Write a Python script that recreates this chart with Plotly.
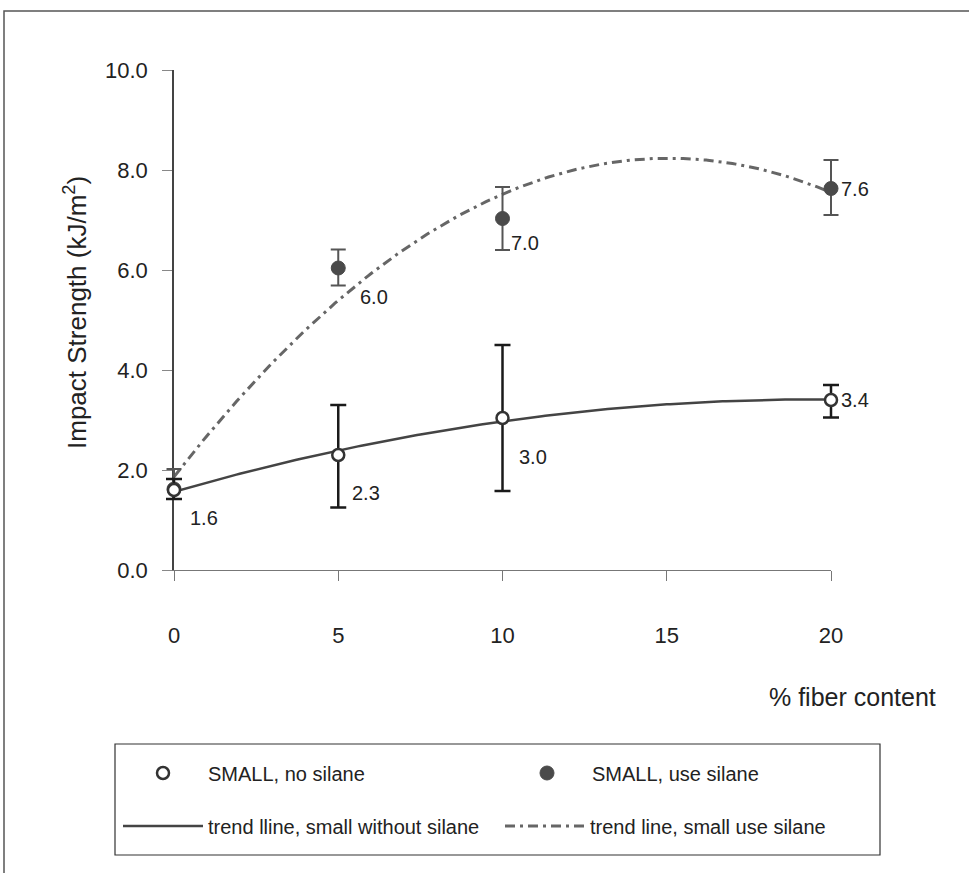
import numpy as np
import plotly.graph_objects as go

# ---------------- data ----------------
fiber = [0, 5, 10, 20]
no_silane = [1.6, 2.3, 3.04, 3.4]
no_silane_err_plus = [0.22, 1.0, 1.46, 0.3]
no_silane_err_minus = [0.18, 1.05, 1.46, 0.35]
no_silane_labels = ["1.6", "2.3", "3.0", "3.4"]

silane = [1.62, 6.04, 7.03, 7.63]
silane_err_plus = [0.4, 0.37, 0.63, 0.57]
silane_err_minus = [0.2, 0.35, 0.63, 0.53]
silane_labels = ["", "6.0", "7.0", "7.6"]

x_ticks = [0, 5, 10, 15, 20]
x_range = [0, 20]
y_ticks = [0, 2, 4, 6, 8, 10]
y_range = [0, 10]
y_tick_text = ["0.0", "2.0", "4.0", "6.0", "8.0", "10.0"]

# label offsets (style, px)
ns_dx = [30, 28, 30, 24]
ns_dy = [-28, -38, -39, 0]
s_dx = [0, 36, 22, 24]
s_dy = [0, -29, -24, 0]

# ---------------- layout geometry (px) ----------------
W, H = 969, 873
PL, PRt, T, B = 140, 870, 70, 303          # full plotting region (paper)
AX0, AX1 = 174, 831                         # visible x-axis extent
PW, PH = PRt - PL, H - T - B


def px(xp):
    return (xp - PL) / PW


def py(yp):
    return (H - B - yp) / PH


def xval(p):
    return x_range[0] + (p - AX0) / (AX1 - AX0) * (x_range[1] - x_range[0])


FONT = "Liberation Sans, Arial, sans-serif"
TXT = "#222222"

# polynomial (order 2) trend lines, as in the original spreadsheet
xs = np.linspace(min(fiber), max(fiber), 201)
trend_ns = np.polyval(np.polyfit(fiber, no_silane, 2), xs)
trend_s = np.polyval(np.polyfit(fiber, silane, 2), xs)

fig = go.Figure()

fig.add_trace(go.Scatter(
    x=xs, y=trend_ns, mode="lines", xaxis="x", yaxis="y",
    line=dict(color="#444444", width=2.5),
    name="trend lline, small without silane", legend="legend3",
))
fig.add_trace(go.Scatter(
    x=xs, y=trend_s, mode="lines", xaxis="x", yaxis="y",
    line=dict(color="#666666", width=3, dash="10px,5px,3px,5px"),
    name="trend line, small use silane", legend="legend4",
))
fig.add_trace(go.Scatter(
    x=fiber, y=silane, mode="markers", xaxis="x2", yaxis="y", cliponaxis=False,
    marker=dict(symbol="circle", size=14, color="#4a4a4a",
                line=dict(color="#4a4a4a", width=1)),
    error_y=dict(type="data", symmetric=False, array=silane_err_plus,
                 arrayminus=silane_err_minus, color="#555555",
                 thickness=2, width=7.5),
    name="SMALL, use silane", legend="legend2",
))
fig.add_trace(go.Scatter(
    x=fiber, y=no_silane, mode="markers", xaxis="x2", yaxis="y", cliponaxis=False,
    marker=dict(symbol="circle", size=12, color="white",
                line=dict(color="#333333", width=2.5)),
    error_y=dict(type="data", symmetric=False, array=no_silane_err_plus,
                 arrayminus=no_silane_err_minus, color="#1a1a1a",
                 thickness=2.5, width=8),
    name="SMALL, no silane", legend="legend",
))

annotations = []
for xv, yv, t, dx, dy in zip(fiber, no_silane, no_silane_labels, ns_dx, ns_dy):
    if t:
        annotations.append(dict(x=xv, y=yv, xref="x", yref="y", text=t,
                                showarrow=False, xshift=dx, yshift=dy,
                                xanchor="center", yanchor="middle",
                                font=dict(family=FONT, size=20, color=TXT)))
for xv, yv, t, dx, dy in zip(fiber, silane, silane_labels, s_dx, s_dy):
    if t:
        annotations.append(dict(x=xv, y=yv, xref="x", yref="y", text=t,
                                showarrow=False, xshift=dx, yshift=dy,
                                xanchor="center", yanchor="middle",
                                font=dict(family=FONT, size=20, color=TXT)))

annotations.append(dict(x=px(852), y=py(697), xref="paper", yref="paper",
                        text="% fiber content", showarrow=False,
                        xanchor="center", yanchor="middle",
                        font=dict(family=FONT, size=25, color=TXT)))
annotations.append(dict(x=px(75), y=py(313), xref="paper", yref="paper",
                        text="Impact Strength (kJ/m<sup>2</sup>)", textangle=-90,
                        showarrow=False, xanchor="center", yanchor="middle",
                        font=dict(family=FONT, size=26, color=TXT)))

shapes = [
    # outer frame
    dict(type="rect", xref="paper", yref="paper",
         x0=px(4), x1=px(1000), y0=py(910), y1=py(11),
         line=dict(color="#555555", width=1.5), fillcolor="rgba(0,0,0,0)",
         layer="below"),
    # legend box
    dict(type="rect", xref="paper", yref="paper",
         x0=px(115), x1=px(880), y0=py(855), y1=py(744),
         line=dict(color="#333333", width=1.2), fillcolor="rgba(0,0,0,0)"),
]

leg_common = dict(xanchor="left", yanchor="middle", bgcolor="rgba(0,0,0,0)",
                  borderwidth=0, itemwidth=80,
                  font=dict(family=FONT, size=20, color=TXT))

fig.update_layout(
    width=W, height=H,
    margin=dict(l=PL, r=W - PRt, t=T, b=B, pad=0),
    paper_bgcolor="white", plot_bgcolor="rgba(0,0,0,0)",
    showlegend=True,
    legend=dict(x=px(118), y=py(773), **leg_common),
    legend2=dict(x=px(502), y=py(773), **leg_common),
    legend3=dict(x=px(118), y=py(826), **leg_common),
    legend4=dict(x=px(500), y=py(826), **leg_common),
    annotations=annotations,
    shapes=shapes,
    xaxis=dict(domain=[px(AX0), px(AX1)], range=x_range, tickvals=x_ticks,
               anchor="y", showgrid=False, zeroline=False,
               showline=True, linecolor="#777777", linewidth=1,
               ticks="outside", ticklen=10, tickcolor="#777777", tickwidth=1,
               ticklabelstandoff=36,
               tickfont=dict(family=FONT, size=22, color=TXT)),
    xaxis2=dict(domain=[0, 1], range=[xval(PL), xval(PRt)], anchor="y",
                visible=False, showgrid=False, zeroline=False),
    yaxis=dict(range=y_range, tickvals=y_ticks, ticktext=y_tick_text,
               anchor="x", showgrid=False, zeroline=False,
               showline=True, linecolor="#444444", linewidth=1.5,
               ticks="outside", ticklen=10, tickcolor="#888888", tickwidth=1,
               ticklabelstandoff=10,
               tickfont=dict(family=FONT, size=22, color=TXT)),
)

fig.write_html("out.html", config={"displayModeBar": False},
               post_script="document.body.style.margin='0px';"
                           "document.body.style.overflow='hidden';")
